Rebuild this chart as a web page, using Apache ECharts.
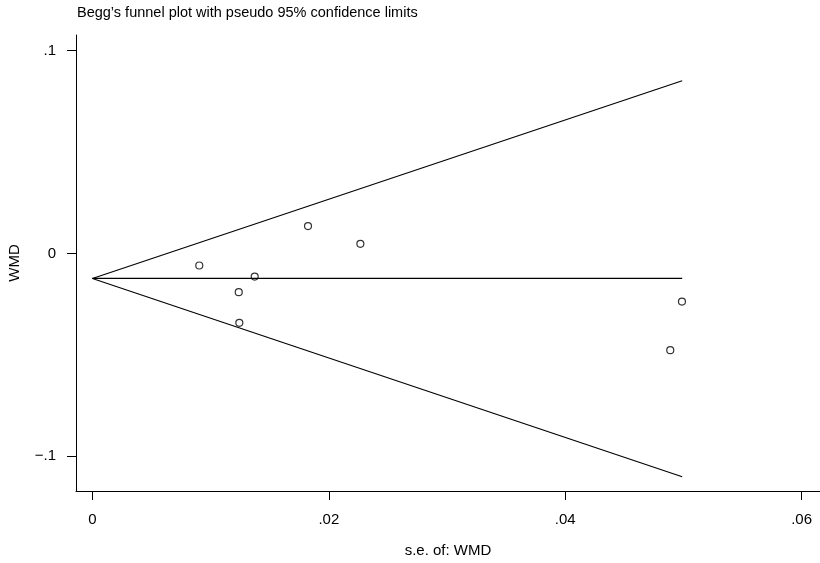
<!DOCTYPE html>
<html>
<head>
<meta charset="utf-8">
<script src="https://cdn.jsdelivr.net/npm/echarts@6/dist/echarts.min.js"></script>
<style>html,body{margin:0;padding:0;background:#fff}#c{width:820px;height:563px}</style>
</head>
<body>
<div id="c"></div>
<script>
// Study points: standard error of WMD (x) and WMD (y)
var seValues  = [0.00904, 0.01373, 0.01238, 0.01243, 0.01824, 0.02267, 0.04988, 0.04889];
var wmdValues = [-0.00592, -0.01135, -0.01904, -0.03419, 0.01352, 0.00479, -0.02368, -0.04766];
// Funnel lines (pooled estimate and pseudo 95% limits), endpoints
var pooledLine = [[0, -0.0123], [0.0499, -0.0123]];
var upperLimit = [[0, -0.0123], [0.0499, 0.0852]];
var lowerLimit = [[0, -0.0123], [0.0499, -0.1101]];
// Tick labels
var xTicks = [0, 0.02, 0.04, 0.06];
var xTickLabels = ['0', '.02', '.04', '.06'];
var yTicks = [-0.1, 0, 0.1];
var yTickLabels = ['\u2212.1', '0', '.1'];

var points = seValues.map(function (s, i) { return [s, wmdValues[i]]; });
function lbl(ticks, labels) {
  return function (v) {
    for (var i = 0; i < ticks.length; i++) if (Math.abs(ticks[i] - v) < 1e-9) return labels[i];
    return '';
  };
}
var font = '"Liberation Sans", Arial, Helvetica, sans-serif';
var lineStyle = { color: '#000', width: 1.2 };
var chart = echarts.init(document.getElementById('c'), null, { renderer: 'canvas' });
chart.setOption({
  animation: false,
  backgroundColor: '#fff',
  textStyle: { fontFamily: font, color: '#000' },
  title: {
    text: 'Begg\u2019s funnel plot with pseudo 95% confidence limits',
    left: 72, top: 0,
    textStyle: { fontFamily: font, fontSize: 14.5, fontWeight: 'normal', color: '#000' }
  },
  grid: { left: 76, top: 35, width: 744, height: 456, containLabel: false, outerBoundsMode: 'none' },
  xAxis: {
    type: 'value', min: -0.00139, max: 0.06156,
    axisLine: { show: true, onZero: false, lineStyle: { color: '#000', width: 1 } },
    axisTick: { show: true, length: 9, customValues: xTicks, lineStyle: { color: '#000', width: 1 } },
    axisLabel: { customValues: xTicks, formatter: lbl(xTicks, xTickLabels), fontFamily: font, fontSize: 15, color: '#000', margin: 21 },
    splitLine: { show: false },
    name: 's.e. of: WMD', nameLocation: 'middle', nameGap: 52,
    nameTextStyle: { fontFamily: font, fontSize: 15, color: '#000' }
  },
  yAxis: {
    type: 'value', min: -0.1171, max: 0.10775,
    axisLine: { show: true, onZero: false, lineStyle: { color: '#000', width: 1 } },
    axisTick: { show: true, length: 9, customValues: yTicks, lineStyle: { color: '#000', width: 1 } },
    axisLabel: { customValues: yTicks, formatter: lbl(yTicks, yTickLabels), fontFamily: font, fontSize: 15, color: '#000', margin: 20 },
    splitLine: { show: false },
    name: 'WMD', nameLocation: 'middle', nameGap: 54, nameRotate: 90,
    nameTextStyle: { fontFamily: font, fontSize: 15, color: '#000' }
  },
  series: [
    { type: 'line', data: pooledLine, symbol: 'none', lineStyle: lineStyle, silent: true },
    { type: 'line', data: upperLimit, symbol: 'none', lineStyle: lineStyle, silent: true },
    { type: 'line', data: lowerLimit, symbol: 'none', lineStyle: lineStyle, silent: true },
    { type: 'scatter', data: points, symbol: 'circle', symbolSize: 7,
      itemStyle: { color: '#fff', borderColor: '#000', borderWidth: 1.2 } }
  ]
});
</script>
</body>
</html>
